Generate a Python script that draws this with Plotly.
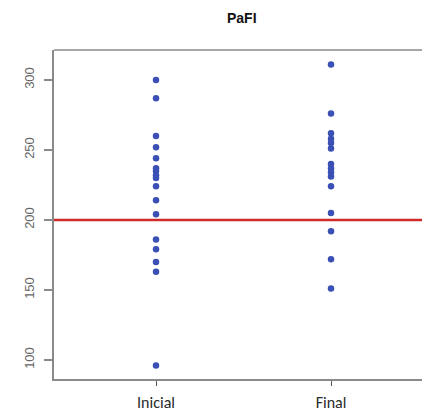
import plotly.graph_objects as go

categories = ["Inicial", "Final"]
inicial_vals = [300, 287, 260, 252, 244, 237, 235, 232, 230, 224, 214, 204, 186, 179, 170, 163, 96]
final_vals = [311, 276, 262, 258, 255, 251, 240, 237, 234, 231, 224, 205, 192, 172, 151]
ref_value = 200
y_ticks = [100, 150, 200, 250, 300]
title_text = "PaFI"

point_color = "#3A50B4"
axis_color = "#8a8a8a"

fig = go.Figure()
fig.add_trace(go.Scatter(
    x=[0] * len(inicial_vals), y=inicial_vals, mode="markers",
    marker=dict(color=point_color, size=6.5, line=dict(width=0)),
    showlegend=False, hoverinfo="y"))
fig.add_trace(go.Scatter(
    x=[1] * len(final_vals), y=final_vals, mode="markers",
    marker=dict(color=point_color, size=6.5, line=dict(width=0)),
    showlegend=False, hoverinfo="y"))

# reference line
fig.add_shape(type="line", xref="paper", yref="y", x0=0, x1=1, y0=ref_value, y1=ref_value,
              line=dict(color="#CF2B2B", width=2.5), layer="below")
# top border of the box
fig.add_shape(type="line", xref="paper", yref="paper", x0=0, x1=1, y0=1, y1=1,
              line=dict(color=axis_color, width=1.5))

fig.update_layout(
    width=422, height=411,
    margin=dict(l=54, r=0, t=50, b=32),
    paper_bgcolor="white", plot_bgcolor="white",
    font=dict(family="Liberation Sans, Arial, sans-serif"),
    annotations=[dict(text="<b>" + title_text + "</b>", xref="paper", yref="paper",
                      x=(242 - 54) / 368, y=1, yshift=32, showarrow=False,
                      font=dict(size=14, color="#111111"), xanchor="center", yanchor="middle")],
)
fig.update_xaxes(
    range=[-0.583, 1.52], tickmode="array", tickvals=[0, 1], ticktext=categories,
    showgrid=False, zeroline=False, showline=True, linecolor=axis_color, linewidth=1.5,
    ticks="outside", ticklen=5, tickcolor="#555555", tickwidth=1,
    tickfont=dict(family="Carlito, Lato, sans-serif", size=16, color="#2a2a2a"),
    ticklabelstandoff=3,
)
fig.update_yaxes(
    range=[86.4, 321.4], tickmode="array", tickvals=y_ticks,
    showgrid=False, zeroline=False, showline=True, linecolor=axis_color, linewidth=1.5,
    ticks="outside", ticklen=8, tickcolor=axis_color, tickwidth=1.5,
    tickangle=-90, tickfont=dict(size=13, color="#666666"),
    ticklabelstandoff=5,
)

fig.write_html("out.html")
